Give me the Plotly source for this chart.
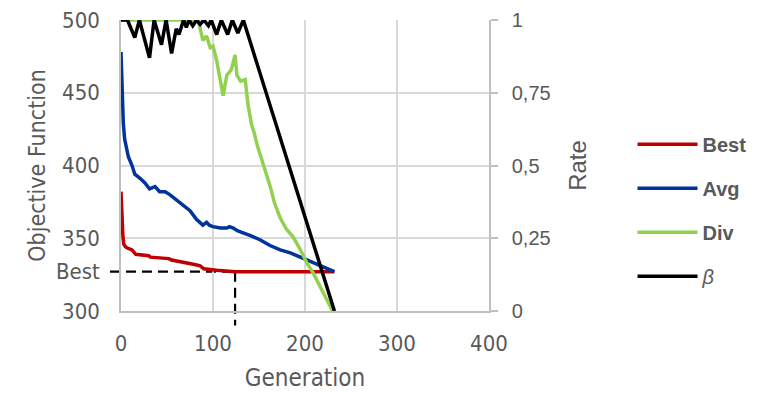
import plotly.graph_objects as go

# ---- data ----
best_gen = [0, 1, 2, 3, 5, 8, 12, 16, 30, 32, 52, 55, 64, 75, 80, 86, 90, 104, 113, 124, 232]
best_val = [382, 362, 352, 346, 344, 343, 342, 339, 338, 337, 336, 335, 334, 333, 332, 331, 329, 328, 327.5, 327, 327]

avg_gen = [0, 1.4, 2.5, 4, 8, 12, 15, 21, 26, 31, 34, 37, 42, 48, 53, 59, 66, 75, 82, 86, 89, 93,
           96, 100, 108, 115, 118, 122, 127, 140, 151, 162, 173, 184, 195, 205, 216, 227, 232]
avg_val = [478, 450, 429, 418, 406, 400, 394, 391, 388, 384, 385, 385.5, 382, 382, 380, 377, 374, 369, 363, 361, 359, 361,
           359, 358, 357, 357, 358, 357, 355, 352, 349, 345, 342, 340, 337, 334, 331.5, 328, 327]

div_gen = [0, 84, 89, 93, 97, 100, 104, 108, 111, 115, 120, 124, 126, 130, 135, 138, 142, 145, 148,
           155, 162, 167, 173, 180, 187, 195, 202, 209, 216, 224, 230]
div_val = [1, 1, 0.93, 0.945, 0.905, 0.91, 0.86, 0.79, 0.74, 0.81, 0.83, 0.88, 0.81, 0.79, 0.795, 0.71, 0.64, 0.61, 0.57,
           0.50, 0.43, 0.37, 0.32, 0.28, 0.255, 0.21, 0.165, 0.13, 0.085, 0.04, 0.0]

beta_gen = [0, 7, 15, 20, 31, 36, 44, 49, 55, 60, 63, 68, 71, 74, 78, 82, 86, 90, 95, 98,
            104, 109, 116, 121, 127, 133, 232]
beta_val = [1, 1, 0.94, 1, 0.87, 1, 0.915, 1, 0.885, 0.97, 0.95, 1, 0.975, 1, 0.98, 1, 0.985, 1, 0.98, 1,
            0.95, 1, 0.95, 1, 0.955, 1, 0]

BEST_VALUE = 327
BEST_GENERATION = 124

x_range = [0, 400]
x_ticks = [0, 100, 200, 300, 400]
y_range = [300, 500]
y_ticks = [300, 350, 400, 450, 500]
y2_range = [0, 1]
y2_ticks = [0, 0.25, 0.5, 0.75, 1]
y2_labels = ["0", "0,25", "0,5", "0,75", "1"]

GREY = "#595959"
AXIS = "#bfbfbf"
GRID = "#d9d9d9"
NARROW = "DejaVu Sans Condensed, Liberation Sans, sans-serif"
SANS = "Liberation Sans, Arial, sans-serif"

fig = go.Figure()
fig.add_trace(go.Scatter(x=best_gen, y=best_val, name="<b>Best</b>", mode="lines",
                         line=dict(color="#C00000", width=3.5), legendgroup="a"))
fig.add_trace(go.Scatter(x=avg_gen, y=avg_val, name="<b>Avg</b>", mode="lines",
                         line=dict(color="#00349C", width=3.5), legendgroup="b"))
fig.add_trace(go.Scatter(x=div_gen, y=div_val, name="<b>Div</b>", mode="lines", yaxis="y2",
                         line=dict(color="#92D050", width=3.5), legendgroup="c"))
fig.add_trace(go.Scatter(x=beta_gen, y=beta_val, name="<i>β</i>", mode="lines", yaxis="y2",
                         line=dict(color="#000000", width=3.5), legendgroup="d"))

# dashed marker of the best value / generation it was reached
bx = (BEST_GENERATION - x_range[0]) / (x_range[1] - x_range[0])
by = (BEST_VALUE - y_range[0]) / (y_range[1] - y_range[0])
dash_style = dict(color="black", width=2.2, dash="10px,6px")
fig.add_shape(type="line", xref="paper", yref="paper", x0=-0.03, x1=bx, y0=by, y1=by,
              line=dash_style, layer="below")
fig.add_shape(type="line", xref="paper", yref="paper", x0=bx, x1=bx, y0=by, y1=-0.05,
              line=dash_style, layer="below")

# the page body adds an 8px offset, so margins are shifted to compensate
fig.update_layout(
    width=779, height=394,
    margin=dict(l=113, r=298, t=12, b=91, autoexpand=False),
    plot_bgcolor="white", paper_bgcolor="white",
    showlegend=True,
    legend=dict(x=1.39, xanchor="left", y=0.64, yanchor="top", itemwidth=60,
                font=dict(family=SANS, size=20, color=GREY),
                tracegroupgap=15, bgcolor="rgba(0,0,0,0)"),
    xaxis=dict(range=x_range, tickvals=x_ticks, showgrid=True, gridcolor=GRID, gridwidth=1.5,
               showline=True, linecolor=AXIS, linewidth=1.5, ticks="", zeroline=False,
               ticklabelstandoff=12, ticklabeloverflow="allow",
               tickfont=dict(family=NARROW, size=22, color=GREY),
               title=dict(text="Generation", font=dict(family=NARROW, size=24, color=GREY), standoff=14)),
    yaxis=dict(range=y_range, tickvals=y_ticks + [BEST_VALUE],
               ticktext=[str(v) for v in y_ticks] + ["Best"],
               showgrid=False, showline=True, linecolor=AXIS, linewidth=1.5, ticks="",
               zeroline=False, ticklabelstandoff=15, ticklabeloverflow="allow",
               tickfont=dict(family=NARROW, size=22, color=GREY),
               title=dict(text="Objective Function", font=dict(family=NARROW, size=23, color=GREY), standoff=4)),
    yaxis2=dict(range=y2_range, tickvals=y2_ticks, ticktext=y2_labels, overlaying="y", side="right",
                showgrid=True, gridcolor=GRID, gridwidth=1.5, showline=True, linecolor=AXIS, linewidth=1.5,
                ticks="outside", ticklen=7, tickcolor=AXIS, tickwidth=1.5, zeroline=False,
                ticklabelstandoff=10, ticklabeloverflow="allow",
                tickfont=dict(family=SANS, size=20, color=GREY),
                title=dict(text="Rate", font=dict(family=SANS, size=24, color=GREY), standoff=20)),
)

fig.write_html("out.html")
